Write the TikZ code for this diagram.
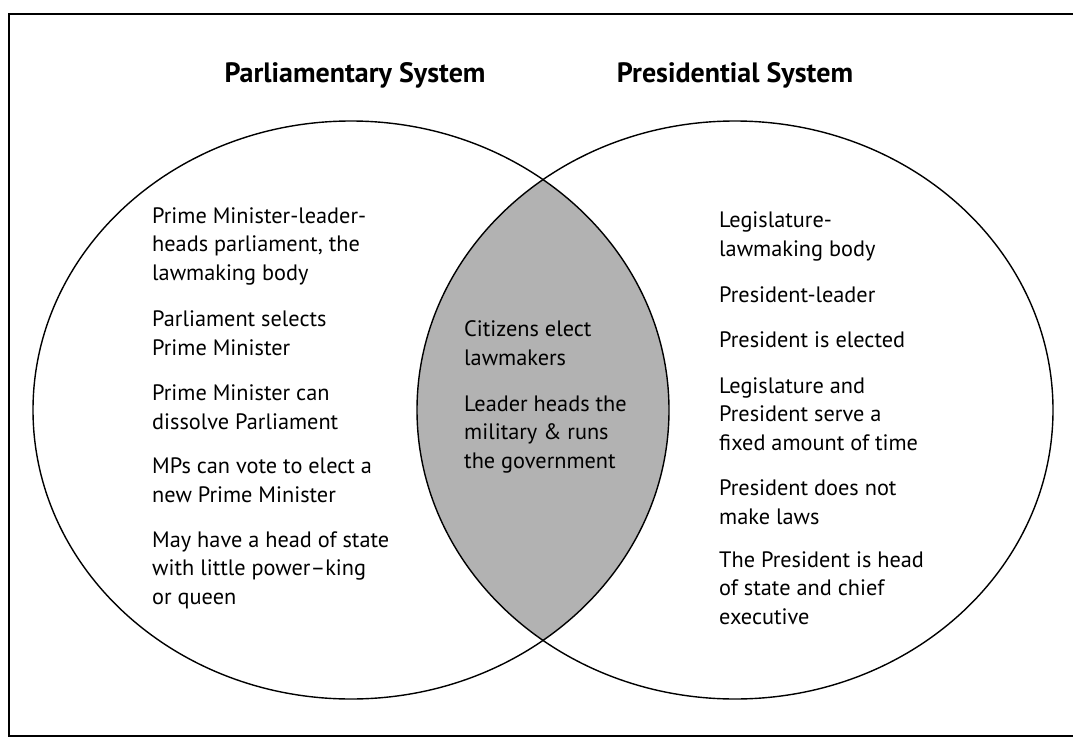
\documentclass[tikz,border=0pt]{standalone}
\usepackage{fontspec}
\setmainfont{PT Sans}
\usepackage{tikz}
\usetikzlibrary{positioning}
\tikzstyle{item}=[anchor=base west, inner sep=0pt, align=left, font=\fontsize{22.3}{28.5}\selectfont]
\tikzstyle{heading}=[anchor=base, inner sep=0pt, font=\bfseries\fontsize{28}{32}\selectfont]
\tikzstyle{set}=[draw, line width=1.4pt]

\begin{document}
\begin{tikzpicture}[x=1pt, y=-1pt]
        \useasboundingbox (0,0) rectangle (1073,741);
        \coordinate (parl) at (351,410);
        \coordinate (pres) at (735,410);
        % page frame
        \draw[line width=1.6pt] (1073,14) -- (9,14) -- (9,736) -- (1073,736);
        % shared part
        \begin{scope}
            \clip (parl) ellipse [x radius=318pt, y radius=289pt];
            \fill[black!30] (pres) ellipse [x radius=318pt, y radius=289pt];
        \end{scope}
        \draw[set] (parl) ellipse [x radius=318pt, y radius=289pt];
        \draw[set] (pres) ellipse [x radius=318pt, y radius=289pt];
        \node[heading] (parlTitle) at (355,83) {Parliamentary System};
        \node[heading] (presTitle) at (735,83) {Presidential System};
        % parliamentary (base = last line)
        \node[item] (pm) at (152,280) {Prime Minister-leader-\\heads parliament, the\\lawmaking body};
        \node[item] (selects) at (152,355) {Parliament selects\\Prime Minister};
        \node[item] (dissolve) at (152,429) {Prime Minister can\\dissolve Parliament};
        \node[item] (mps) at (152,502) {MPs can vote to elect a\\new Prime Minister};
        \node[item] (head) at (152,604) {May have a head of state\\with little power--king\\or queen};
        % both
        \node[item] (citizens) at (464,365) {Citizens elect\\lawmakers};
        \node[item] (leader) at (464,468) {Leader heads the\\military \& runs\\the government};
        % presidential
        \node[item] (legis) at (719,256) {Legislature-\\lawmaking body};
        \node[item] (presLead) at (719,302) {President-leader};
        \node[item] (elected) at (719,347) {President is elected};
        \node[item] (fixed) at (719,450) {Legislature and\\President serve a\\fixed amount of time};
        \node[item] (laws) at (719,524) {President does not\\make laws};
        \node[item] (chief) at (719,624) {The President is head\\of state and chief\\executive};
\end{tikzpicture}
\end{document}
